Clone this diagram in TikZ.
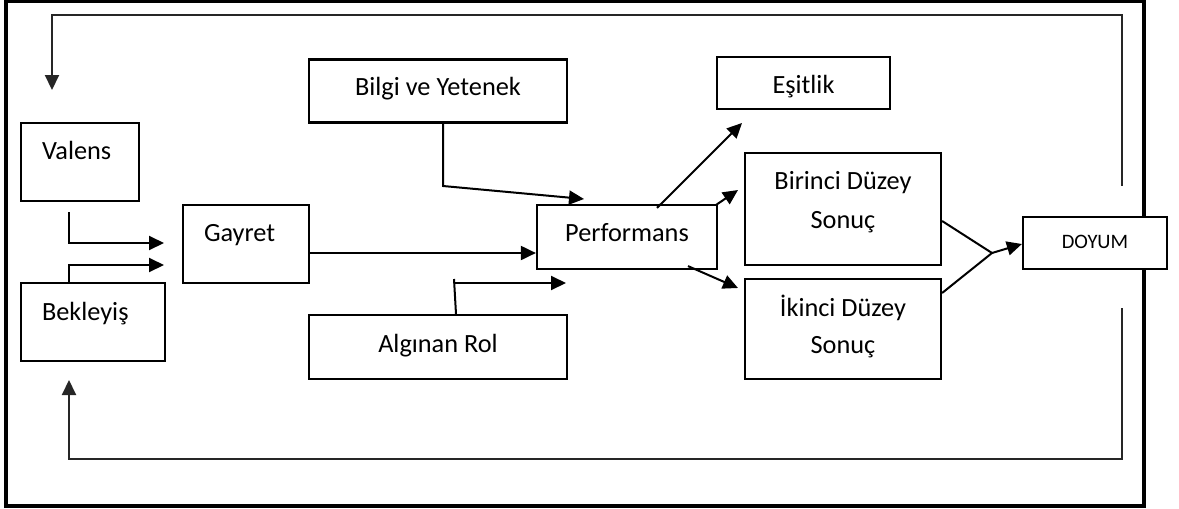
\documentclass[tikz,border=0pt]{standalone}
\usepackage{fontspec}
\setmainfont{Carlito}
\usetikzlibrary{arrows.meta,calc}
\begin{document}
\begin{tikzpicture}[x=1pt,y=-1pt,
  box/.style={draw, line width=2.2pt, inner sep=0pt, fill=white,
    font=\fontsize{26.3}{31}\selectfont},
  lbox/.style={box, align=left},
  arr/.style={line width=2pt, -{Triangle[length=15pt,width=14pt]}},
  ln/.style={line width=2pt},
  fb/.style={line width=2.1pt, black!85},
  fbarr/.style={fb, -{Triangle[length=15pt,width=14pt]}},
  frame/.style={line width=3.4pt}]
\useasboundingbox (0,0) rectangle (1179,509);
% outer frame
\draw[frame] (6,1.7) rectangle (1144,506);

% boxes
\node[lbox, minimum width=118pt, minimum height=78pt, text width=76pt,
      text height=17pt, text depth=23pt] (val) at (80,162) {Valens};
\node[lbox, minimum width=144pt, minimum height=78pt, text width=102pt,
      text height=17pt, text depth=21pt] (bek) at (93,322) {Bekleyiş};
\node[lbox, minimum width=126pt, minimum height=78pt, text width=84pt,
      text height=17pt, text depth=23pt] (gay) at (246,244) {Gayret};
\node[box, minimum width=258pt, minimum height=63pt,
      text height=17pt, text depth=9pt] (bil) at (438,91) {Bilgi ve Yetenek};
\node[box, minimum width=258pt, minimum height=64pt,
      text height=17pt, text depth=7pt] (alg) at (438,347) {Algınan Rol};
\node[box, minimum width=180pt, minimum height=64pt,
      text height=17pt, text depth=9pt] (perf) at (627,237) {Performans};
\node[box, minimum width=173pt, minimum height=52pt,
      text height=26pt, text depth=6pt] (esit) at (803.5,83) {Eşitlik};
\node[box, minimum width=196pt, minimum height=112pt, align=center,
      font=\fontsize{26.3}{39}\selectfont] (bir) at (843,209)
      {\rule{0pt}{20pt}Birinci Düzey\\Sonuç\rule[-21pt]{0pt}{21pt}};
\node[box, minimum width=196pt, minimum height=100pt, align=center,
      font=\fontsize{26.3}{37}\selectfont] (iki) at (843,329)
      {\rule{0pt}{26pt}İkinci Düzey\\Sonuç\rule[-15pt]{0pt}{15pt}};
\node[box, minimum width=144pt, minimum height=52pt,
      font=\fontsize{20.5}{24}\selectfont,
      text height=14pt, text depth=4pt] (doy) at (1095,243) {DOYUM};

% free ends
\coordinate (vs) at (69,212);
\coordinate (g1) at (164,243);
\coordinate (g2) at (164,265);
\coordinate (p1) at (584,199);
\coordinate (p2) at (566,283);
\coordinate (e1) at (742,123);
\coordinate (b1) at (738,190);
\coordinate (i1) at (738,288);
\coordinate (j) at (992,253);
\coordinate (t1) at (52,90);
\coordinate (t2) at (69,380);

% connectors left
\draw[arr] (vs) |- (g1);
\draw[arr] ([xshift=-24pt]bek.north) |- (g2);
\draw[arr] ([yshift=-9pt]gay.east) -- ([yshift=-16pt]perf.west);
\draw[arr] ([xshift=5pt]bil.south) -- (443,186) -- (p1);
\draw[ln] ([xshift=18pt]alg.north) -- (454,279);
\draw[arr] (454,283) -- (p2);

% connectors right
\draw[arr] ([xshift=30pt,yshift=-4pt]perf.north) -- (e1);
\draw[arr] ([xshift=-2pt,yshift=-1pt]perf.north east) -- (b1);
\draw[arr] ([xshift=61pt,yshift=4pt]perf.south) -- (i1);
\draw[ln] ([yshift=-12pt]bir.east) -- (j);
\draw[ln] ([yshift=36pt]iki.east) -- (j);
\draw[arr] (j) -- ([yshift=-1pt]doy.west);

% feedback loops
\draw[fbarr] ([xshift=27pt,yshift=30pt]doy.north) |- (52,15) -- (t1);
\draw[fbarr] ([xshift=27pt,yshift=-38pt]doy.south) |- (69,459) -- (t2);
\end{tikzpicture}
\end{document}
